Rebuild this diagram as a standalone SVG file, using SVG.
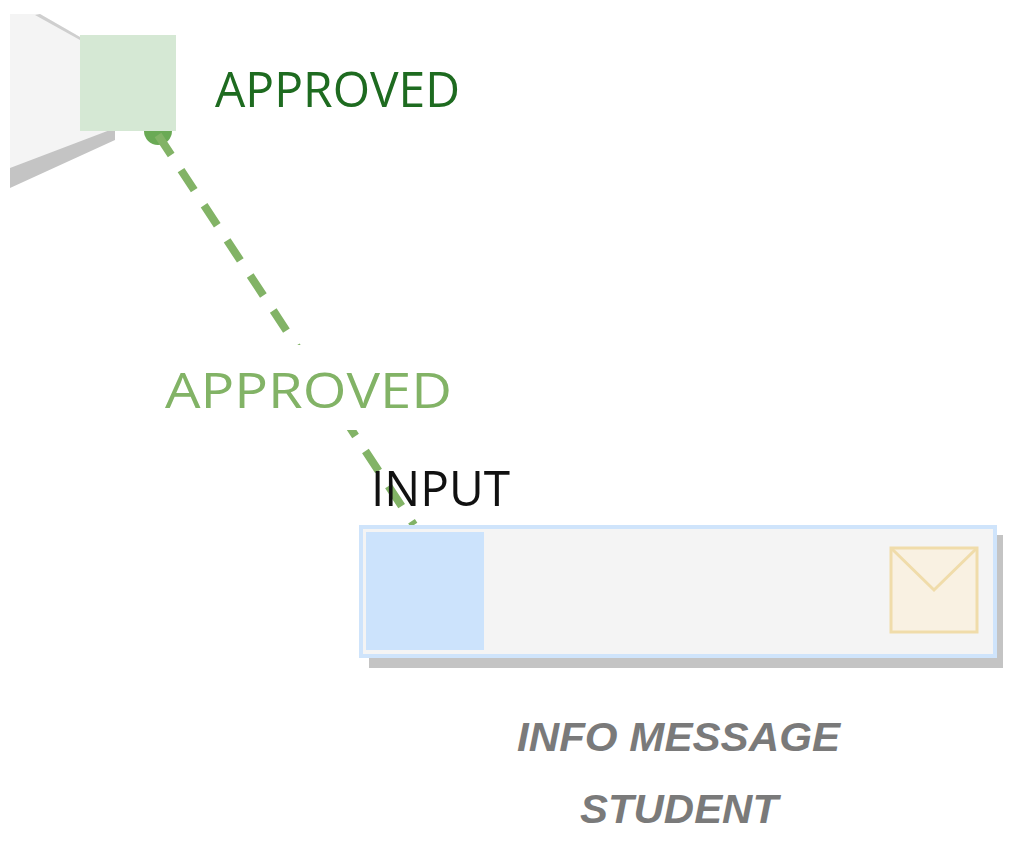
<svg xmlns="http://www.w3.org/2000/svg" width="1015" height="844" viewBox="0 0 1015 844">
<style>
.t{font-family:"Segoe UI","Open Sans","Liberation Sans",sans-serif;font-size:50px}
.lbl{font-family:"Liberation Sans",Arial,sans-serif;font-size:40px;font-weight:bold;font-style:italic;fill:#7a7a7a}
</style>
<rect width="1015" height="844" fill="#fff"/>
<g id="approved-node">
<polygon points="10,165 10,188 115,140 115,125" fill="#c4c4c4"/>
<polygon points="10,14 40,14 80,37 80,130 110,130 10,168" fill="#f4f4f4"/>
<polygon points="40,14 80,37 80,40 35,15" fill="#cfcfcf"/>
<rect x="80" y="35" width="96" height="96" fill="#d5e8d4"/>
<text class="t" x="215" y="107" fill="#1e6b20" textLength="245" lengthAdjust="spacingAndGlyphs">APPROVED</text>
</g>
<g id="connectors">
<path d="M144,131 A14,14 0 0 0 172,131 Z" fill="#6aaa55"/>
<line x1="158" y1="135" x2="414" y2="525" stroke="#82b366" stroke-width="8" stroke-dasharray="24,18"/>
<rect x="160" y="345" width="295" height="85" fill="#fff"/>
<text class="t" x="165" y="408" fill="#82b366" textLength="287" lengthAdjust="spacingAndGlyphs">APPROVED</text>
</g>
<g id="info-message">
<rect x="369" y="535" width="634" height="133" fill="#c4c4c4"/>
<rect x="361" y="527" width="634" height="129" fill="#f4f4f4" stroke="#cfe4fb" stroke-width="4"/>
<rect x="366" y="532" width="118" height="118" fill="#cce3fc"/>
<rect x="891" y="548" width="86" height="84" fill="#f9f1e2" stroke="#f0dcaa" stroke-width="3"/>
<polyline points="891,548 934,590 977,548" fill="none" stroke="#f0dcaa" stroke-width="3"/>
<text class="t" x="371" y="506" fill="#111" textLength="139" lengthAdjust="spacingAndGlyphs">INPUT</text>
<text class="lbl" x="517" y="751" textLength="323" lengthAdjust="spacingAndGlyphs">INFO MESSAGE</text>
<text class="lbl" x="580" y="823" textLength="198" lengthAdjust="spacingAndGlyphs">STUDENT</text>
</g>
</svg>
